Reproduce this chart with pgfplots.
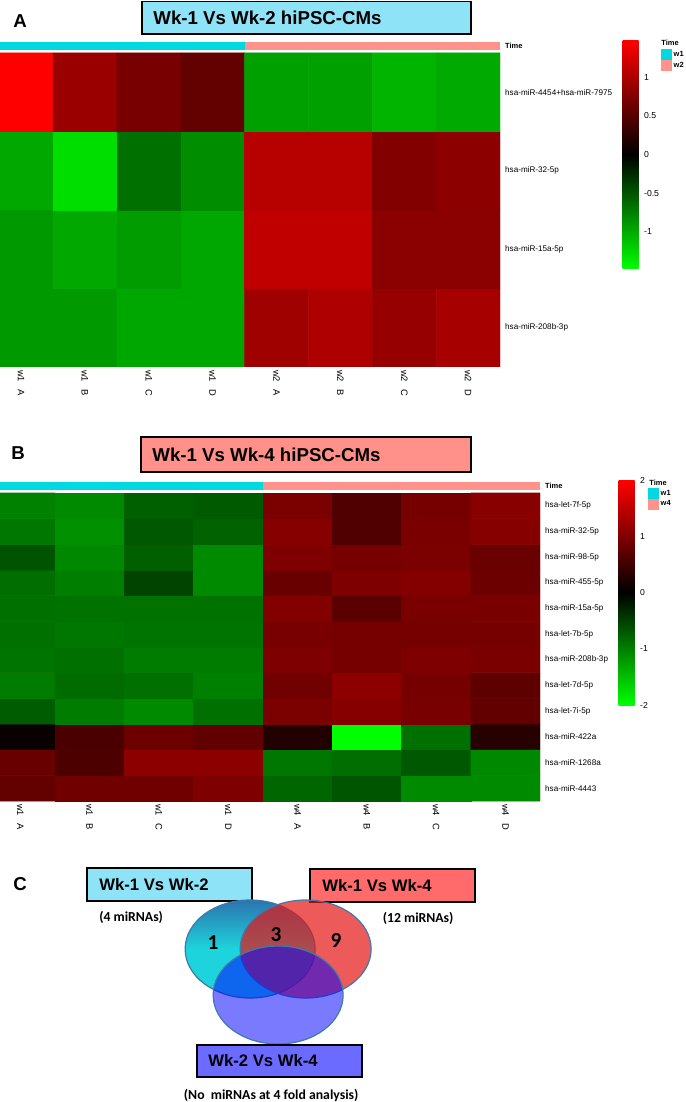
\documentclass[border=0pt]{standalone}
\usepackage{pgfplots}
\pgfplotsset{compat=1.18}
\usepackage{fontspec}
\setmainfont{Liberation Sans}
\newfontfamily\carlito{Carlito}
\definecolor{wone}{RGB}{0,217,224}
\definecolor{wtwo}{RGB}{255,146,139}
\definecolor{titleA}{RGB}{142,227,247}
\definecolor{titleB}{RGB}{255,145,138}
\definecolor{vboxA}{RGB}{142,227,247}
\definecolor{vboxB}{RGB}{255,107,107}
\definecolor{vboxC}{RGB}{107,107,255}
\definecolor{vline}{RGB}{62,122,170}
\definecolor{c1top}{RGB}{42,116,176}
\definecolor{c1cyan}{RGB}{30,212,220}
\definecolor{c2fill}{RGB}{230,20,20}
\newcommand\rowfont{\fontsize{6.1}{7}\selectfont}
\newcommand\timefont{\bfseries\fontsize{5.6}{6}\selectfont}
\pgfplotsset{
  heat/.style={
    scale only axis, anchor=north west,
    axis line style={draw=none}, major tick length=0pt,
    xtick={1,...,8},
    xticklabel style={rotate=-90, anchor=west, font=\fontsize{7}{8}\selectfont, inner sep=2.2pt},
    yticklabel pos=right,
    yticklabel style={anchor=west, font=\rowfont, inner sep=0pt, xshift=3.6pt},
    colormap={gr}{rgb255=(0,255,0) rgb255=(0,0,0) rgb255=(255,0,0)},
    legend image code/.code={\fill[##1] (0pt,-4pt) rectangle (8.25pt,4pt);},
    legend style={anchor=north west, draw=none, fill=none, inner sep=0pt,
      row sep=0pt, font=\timefont, nodes={inner sep=1pt}, legend cell align=left},
  },
  cbar/.style={
    colorbar style={
      at={(parent axis.north east)}, anchor=north west,
      scale only axis, width=12pt,
      axis line style={draw=none}, major tick length=0pt,
      yticklabel pos=right,
      /pgf/number format/assume math mode=true,
      yticklabel style={font=\fontsize{6.5}{7}\selectfont, /pgf/number format/assume math mode=true, inner sep=1pt, xshift=3pt},
      #1
    }
  }
}
\begin{document}
\begin{tikzpicture}
% ---------------- Heatmap A ----------------
\begin{axis}[heat,
  at={(0pt,-31.5pt)}, width=375pt, height=243.75pt,
  xmin=0.672, xmax=8.5, ymin=0.5, ymax=4.640,
  xticklabels={w1\hspace{0.8em}A,w1\hspace{0.8em}B,w1\hspace{0.8em}C,w1\hspace{0.8em}D,w2\hspace{0.8em}A,w2\hspace{0.8em}B,w2\hspace{0.8em}C,w2\hspace{0.8em}D},
  ytick={1,2,3,4,4.589},
  yticklabels={hsa-miR-208b-3p,hsa-miR-15a-5p,hsa-miR-32-5p,hsa-miR-4454+hsa-miR-7975,{\timefont Time}},
  point meta min=-1.485, point meta max=1.485,
  colorbar, cbar={xshift=83.25pt, yshift=1.5pt, height=171.75pt, ytick={-1,-0.5,0,0.5,1}},
  legend style={at={(1.322,0.978)}},
]
\addplot[matrix plot*, mesh/cols=8, point meta=explicit, forget plot] table[meta=v] {
x y v
1 1 -0.89
2 1 -0.89
3 1 -0.97
4 1 -0.97
5 1 0.93
6 1 1.02
7 1 0.88
8 1 0.97
1 2 -0.89
2 2 -0.98
3 2 -0.91
4 2 -0.97
5 2 1.12
6 2 1.12
7 2 0.81
8 2 0.81
1 3 -0.98
2 3 -1.29
3 3 -0.65
4 3 -0.82
5 3 1.07
6 3 1.07
7 3 0.76
8 3 0.82
1 4 1.485
2 4 0.90
3 4 0.70
4 4 0.58
5 4 -0.93
6 4 -0.93
7 4 -1.05
8 4 -0.99
};
\addplot[fill=wone, draw=none] coordinates {(0.5,4.538) (4.5,4.538) (4.5,4.640) (0.5,4.640)};
\addlegendentry{w1}
\addplot[fill=wtwo, draw=none] coordinates {(4.5,4.538) (8.5,4.538) (8.5,4.640) (4.5,4.640)};
\addlegendentry{w2}
\end{axis}
% ---------------- Heatmap B ----------------
\begin{axis}[heat,
  at={(0pt,-361.5pt)}, width=405pt, height=239.25pt,
  xmin=0.709, xmax=8.5, ymin=0.5, ymax=12.9285,
  xticklabels={w1\hspace{0.8em}A,w1\hspace{0.8em}B,w1\hspace{0.8em}C,w1\hspace{0.8em}D,w4\hspace{0.8em}A,w4\hspace{0.8em}B,w4\hspace{0.8em}C,w4\hspace{0.8em}D},
  ytick={1,2,3,4,5,6,7,8,9,10,11,12,12.773},
  yticklabels={hsa-miR-4443,hsa-miR-1268a,hsa-miR-422a,hsa-let-7i-5p,hsa-let-7d-5p,hsa-miR-208b-3p,hsa-let-7b-5p,hsa-miR-15a-5p,hsa-miR-455-5p,hsa-miR-98-5p,hsa-miR-32-5p,hsa-let-7f-5p,{\timefont Time}},
  point meta min=-2, point meta max=2,
  colorbar, cbar={xshift=50.25pt, yshift=1.5pt, height=168.75pt, ytick={-2,-1,0,1,2}},
  legend style={at={(1.2,0.981)}},
]
\addplot[matrix plot*, mesh/cols=8, point meta=explicit, forget plot] table[meta=v] {
x y v
1 1 0.78
2 1 0.88
3 1 0.88
4 1 1.00
5 1 -0.80
6 1 -0.67
7 1 -1.08
8 1 -1.08
1 2 0.82
2 2 0.60
3 2 1.10
4 2 1.10
5 2 -0.94
6 2 -0.86
7 2 -0.69
8 2 -1.07
1 3 0.09
2 3 0.58
3 3 0.85
4 3 0.77
5 3 0.27
6 3 -2.00
7 3 -0.88
8 3 0.31
1 4 -0.72
2 4 -0.97
3 4 -1.08
4 4 -0.88
5 4 0.97
6 4 1.05
7 4 0.94
8 4 0.77
1 5 -0.97
2 5 -0.85
3 5 -0.88
4 5 -1.00
5 5 0.89
6 5 1.10
7 5 0.93
8 5 0.75
1 6 -0.91
2 6 -0.88
3 6 -0.97
4 6 -0.97
5 6 0.99
6 6 0.93
7 6 1.00
8 6 0.96
1 7 -0.88
2 7 -0.94
3 7 -0.91
4 7 -0.91
5 7 0.94
6 7 0.93
7 7 0.93
8 7 0.93
1 8 -0.88
2 8 -0.89
3 8 -0.89
4 8 -0.89
5 8 1.02
6 8 0.71
7 8 0.96
8 8 0.96
1 9 -0.86
2 9 -0.99
3 9 -0.53
4 9 -1.08
5 9 0.82
6 9 0.99
7 9 1.04
8 9 0.85
1 10 -0.66
2 10 -1.07
3 10 -0.75
4 10 -1.08
5 10 1.00
6 10 0.93
7 10 0.97
8 10 0.83
1 11 -0.94
2 11 -1.13
3 11 -0.69
4 11 -0.77
5 11 1.05
6 11 0.63
7 11 0.96
8 11 1.05
1 12 -1.02
2 12 -1.08
3 12 -0.75
4 12 -0.71
5 12 0.97
6 12 0.63
7 12 0.93
8 12 1.08
};
\addplot[fill=wone, draw=none] coordinates {(0.5,12.617) (4.5,12.617) (4.5,12.9285) (0.5,12.9285)};
\addlegendentry{w1}
\addplot[fill=wtwo, draw=none] coordinates {(4.5,12.617) (8.5,12.617) (8.5,12.9285) (4.5,12.9285)};
\addlegendentry{w4}
\end{axis}
% ---------------- Annotations and Venn ----------------
\begin{scope}[x=0.75pt, y=-0.75pt]
\path[use as bounding box] (0,0) rectangle (685,1102);
% panel letters
\node[font=\bfseries\fontsize{14}{16}\selectfont] at (20,21) {A};
\node[font=\bfseries\fontsize{14}{16}\selectfont] at (18,453) {B};
\node[font=\bfseries\fontsize{14}{16}\selectfont] at (20,884) {C};
% titles
\draw[fill=titleA, line width=1.1pt] (142,1.5) rectangle (471,34);
\node[anchor=west, font=\bfseries\fontsize{14}{16}\selectfont, inner sep=0pt] at (153,18) {Wk-1 Vs Wk-2 hiPSC-CMs};
\draw[fill=titleB, line width=1.1pt] (141,437) rectangle (471,472);
\node[anchor=west, font=\bfseries\fontsize{14}{16}\selectfont, inner sep=0pt] at (152,454.5) {Wk-1 Vs Wk-4 hiPSC-CMs};
% legend titles
\node[anchor=west, font=\timefont, inner sep=0pt] at (661,43) {Time};
\node[anchor=west, font=\timefont, inner sep=0pt] at (649,483) {Time};
% Venn
\draw[fill=vboxA, line width=1.1pt] (87,868) rectangle (252,901);
\node[anchor=west, font=\bfseries\fontsize{12.5}{14}\selectfont, inner sep=0pt] at (99,885) {Wk-1 Vs Wk-2};
\draw[fill=vboxB, line width=1.1pt] (310,869) rectangle (475,902);
\node[anchor=west, font=\bfseries\fontsize{12.5}{14}\selectfont, inner sep=0pt] at (322,886) {Wk-1 Vs Wk-4};
\node[font=\carlito\bfseries\fontsize{10.3}{12}\selectfont] at (131,917) {(4 miRNAs)};
\node[font=\carlito\bfseries\fontsize{10.3}{12}\selectfont] at (418,918) {(12 miRNAs)};
\draw[draw=vline, line width=0.9pt, top color=c1top, bottom color=c1cyan, middle color=c1cyan] (250,949) ellipse (65 and 49);
\draw[draw=vline, line width=0.9pt, fill=c2fill, fill opacity=0.7] (305.5,949) ellipse (65.5 and 49);
\draw[draw=vline, line width=0.9pt, fill=blue, fill opacity=0.52] (278,995) ellipse (65 and 49);
\node[font=\carlito\bfseries\fontsize{16}{18}\selectfont] at (213,943) {1};
\node[font=\carlito\bfseries\fontsize{16}{18}\selectfont] at (276,935) {3};
\node[font=\carlito\bfseries\fontsize{16}{18}\selectfont] at (336,940) {9};
\draw[fill=vboxC, line width=1.1pt] (197,1045) rectangle (362,1077);
\node[anchor=west, font=\bfseries\fontsize{12.5}{14}\selectfont, inner sep=0pt] at (208,1061) {Wk-2 Vs Wk-4};
\node[font=\carlito\bfseries\fontsize{10.3}{12}\selectfont] at (271,1095) {(No\ \ miRNAs at 4 fold analysis)};
\end{scope}
\end{tikzpicture}
\end{document}
